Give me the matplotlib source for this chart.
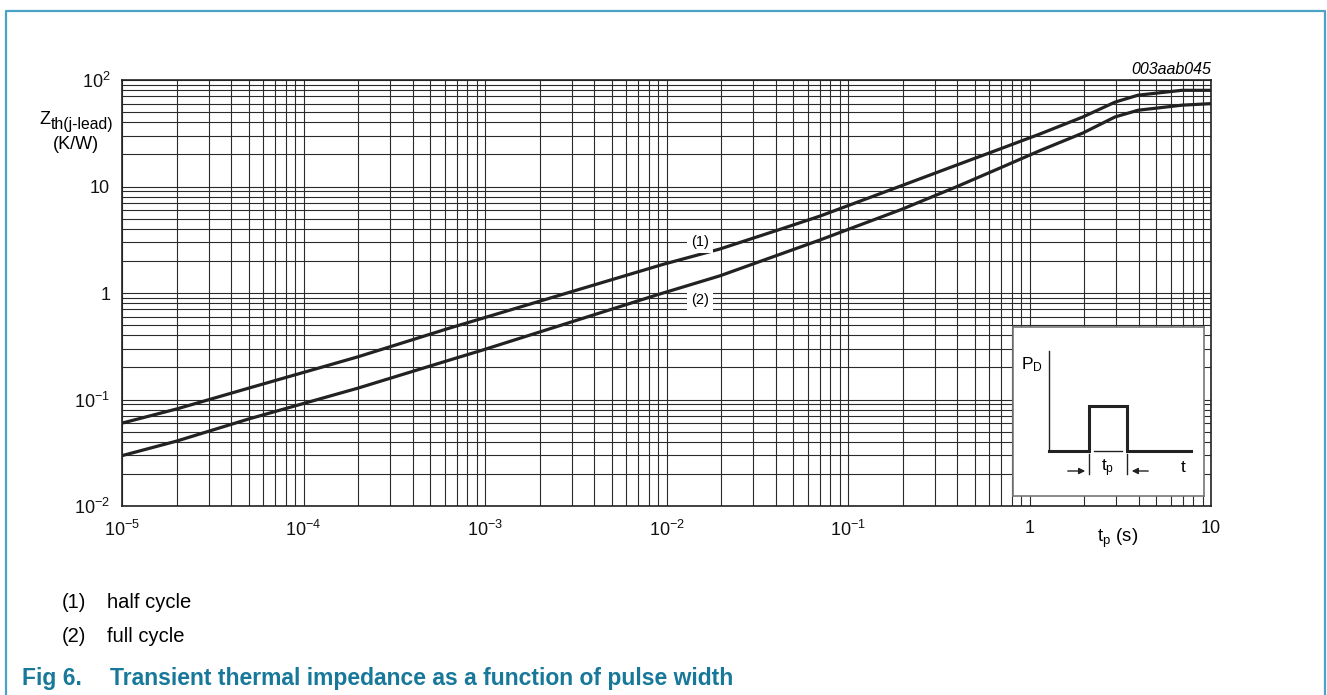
import matplotlib
matplotlib.use("Agg")
import matplotlib.pyplot as plt
from matplotlib.lines import Line2D
from matplotlib.ticker import LogLocator, NullFormatter

plt.rcParams['font.family'] = ['Liberation Sans', 'DejaVu Sans']
plt.rcParams['mathtext.fontset'] = 'custom'
plt.rcParams['mathtext.rm'] = 'Liberation Sans'
plt.rcParams['mathtext.it'] = 'Liberation Sans:italic'
plt.rcParams['mathtext.bf'] = 'Liberation Sans:bold'

# curve (1) half cycle
tp_half = [1e-5, 2e-5, 5e-5, 2e-4, 6.4e-4, 9.6e-3, 0.0197, 0.0413, 0.0702,
           0.198, 0.397, 0.687, 1.14, 1.97, 2.96, 3.96, 6.9, 10]
zth_half = [0.060, 0.0815, 0.128, 0.252, 0.469, 1.86, 2.59, 3.91, 5.28,
            10.2, 15.9, 22.5, 31.1, 45, 62, 72, 80, 80]

# curve (2) full cycle
tp_full = [1e-5, 2e-5, 5e-5, 2e-4, 6.4e-4, 9.75e-4, 8.8e-3, 0.0197, 0.0702,
           0.0984, 0.198, 0.397, 0.687, 1.14, 1.97, 2.96, 3.96, 6.9, 10]
zth_full = [0.0297, 0.0407, 0.0657, 0.128, 0.235, 0.292, 0.957, 1.45, 3.15,
            3.91, 6.11, 9.96, 14.9, 21.7, 31.8, 45, 52, 58, 60]

xticks = [1e-5, 1e-4, 1e-3, 1e-2, 1e-1, 1, 10]
xticklabels = [r'$10^{-5}$', r'$10^{-4}$', r'$10^{-3}$', r'$10^{-2}$',
               r'$10^{-1}$', '1', '10']
yticks = [1e-2, 1e-1, 1, 10, 100]
yticklabels = [r'$10^{-2}$', r'$10^{-1}$', '1', '10', r'$10^{2}$']

W, H = 1327, 695
fig = plt.figure(figsize=(W / 100, H / 100), dpi=100)

def fx(px):
    return px / W

def fy(py):
    return 1 - py / H

# frame around the figure (open at bottom)
teal_line = '#4aa3c4'
fig.add_artist(Line2D([fx(5.5), fx(5.5), fx(1325), fx(1325)],
                      [0, fy(10.5), fy(10.5), 0], color=teal_line, lw=1.6,
                      transform=fig.transFigure))

ax = fig.add_axes([fx(122), fy(506), fx(1211 - 122), (506 - 80) / H])
ax.set_xscale('log')
ax.set_yscale('log')
ax.set_xlim(1e-5, 10)
ax.set_ylim(1e-2, 1e2)

ax.xaxis.set_minor_locator(LogLocator(base=10, subs=range(2, 10), numticks=20))
ax.yaxis.set_minor_locator(LogLocator(base=10, subs=range(2, 10), numticks=20))
ax.xaxis.set_minor_formatter(NullFormatter())
ax.yaxis.set_minor_formatter(NullFormatter())
ax.set_xticks(xticks)
ax.set_xticklabels(xticklabels)
ax.set_yticks(yticks)
ax.set_yticklabels(yticklabels)
ax.tick_params(which='both', length=0, labelsize=13, colors='#111111')
ax.tick_params(axis='y', pad=8.5)
ax.tick_params(axis='x', pad=10)
ax.grid(True, which='both', color='#2a2a2a', lw=0.8)
ax.set_axisbelow(True)
for s in ax.spines.values():
    s.set_color('#222222')
    s.set_linewidth(1.2)

ax.plot(tp_half, zth_half, color='#222222', lw=2.3, zorder=3)
ax.plot(tp_full, zth_full, color='#222222', lw=2.3, zorder=3)

ax.text(0.0153, 3.0, '(1)', fontsize=10.5, ha='center', va='center', zorder=4,
        bbox=dict(facecolor='white', edgecolor='none', pad=3))
ax.text(0.0153, 0.86, '(2)', fontsize=10.5, ha='center', va='center', zorder=4,
        bbox=dict(facecolor='white', edgecolor='none', pad=3))

# axis titles
fig.text(fx(50.5), fy(119), 'Z', fontsize=13, ha='right', va='center')
fig.text(fx(51), fy(124), 'th(j-lead)', fontsize=11.3, ha='left', va='center')
fig.text(fx(75.5), fy(144.5), '(K/W)', fontsize=13, ha='center', va='center')
fig.text(fx(1118), fy(538), r'$\mathregular{t_p}$ (s)', fontsize=13.5,
         ha='center', va='center')
fig.text(fx(1211), fy(69), '003aab045', fontsize=11.5, style='italic',
         ha='right', va='center')

# inset pulse sketch
ins = fig.add_axes([fx(1013), fy(496), fx(191), 169 / H])
ins.set_xlim(0, 191)
ins.set_ylim(169, 0)
ins.set_xticks([])
ins.set_yticks([])
for s in ins.spines.values():
    s.set_color('#777777')
    s.set_linewidth(1.2)
ins.set_facecolor('white')
ins.set_zorder(5)
k = '#222222'
ins.plot([35.7, 35.7], [23.7, 123.7], color=k, lw=1)
ins.plot([35.7, 76.3, 76.3, 114.3, 114.3, 177.7],
         [123.7, 123.7, 79, 79, 123.7, 123.7], color=k, lw=2.2,
         solid_joinstyle='miter')
ins.plot([81.3, 109.3], [123.7, 123.7], color=k, lw=1)
ins.plot([76.3, 76.3], [126.5, 147], color=k, lw=1)
ins.plot([114.3, 114.3], [126.5, 147], color=k, lw=1)
ins.annotate('', xy=(75, 144), xytext=(52, 144),
             arrowprops=dict(arrowstyle='-|>', color=k, lw=1, mutation_scale=9))
ins.annotate('', xy=(116, 144), xytext=(138, 144),
             arrowprops=dict(arrowstyle='-|>', color=k, lw=1, mutation_scale=9))
ins.text(95, 141, r'$\mathregular{t_p}$', fontsize=12.5, ha='center', va='center')
ins.text(170, 140, 't', fontsize=12.5, ha='center', va='center')
ins.text(19, 38, r'$\mathregular{P_D}$', fontsize=12.5, ha='center', va='center')

# notes and caption
fig.text(fx(62), fy(603), '(1)', fontsize=14.5, ha='left', va='center')
fig.text(fx(107), fy(603), 'half cycle', fontsize=14.5, ha='left', va='center')
fig.text(fx(62), fy(637), '(2)', fontsize=14.5, ha='left', va='center')
fig.text(fx(107), fy(637), 'full cycle', fontsize=14.5, ha='left', va='center')
fig.text(fx(22), fy(678), 'Fig 6.', fontsize=16.5, fontweight='bold',
         color='#17789a', ha='left', va='center')
fig.text(fx(110), fy(678), 'Transient thermal impedance as a function of pulse width',
         fontsize=16.5, fontweight='bold', color='#17789a', ha='left', va='center')

fig.savefig('out.png', dpi=100)
